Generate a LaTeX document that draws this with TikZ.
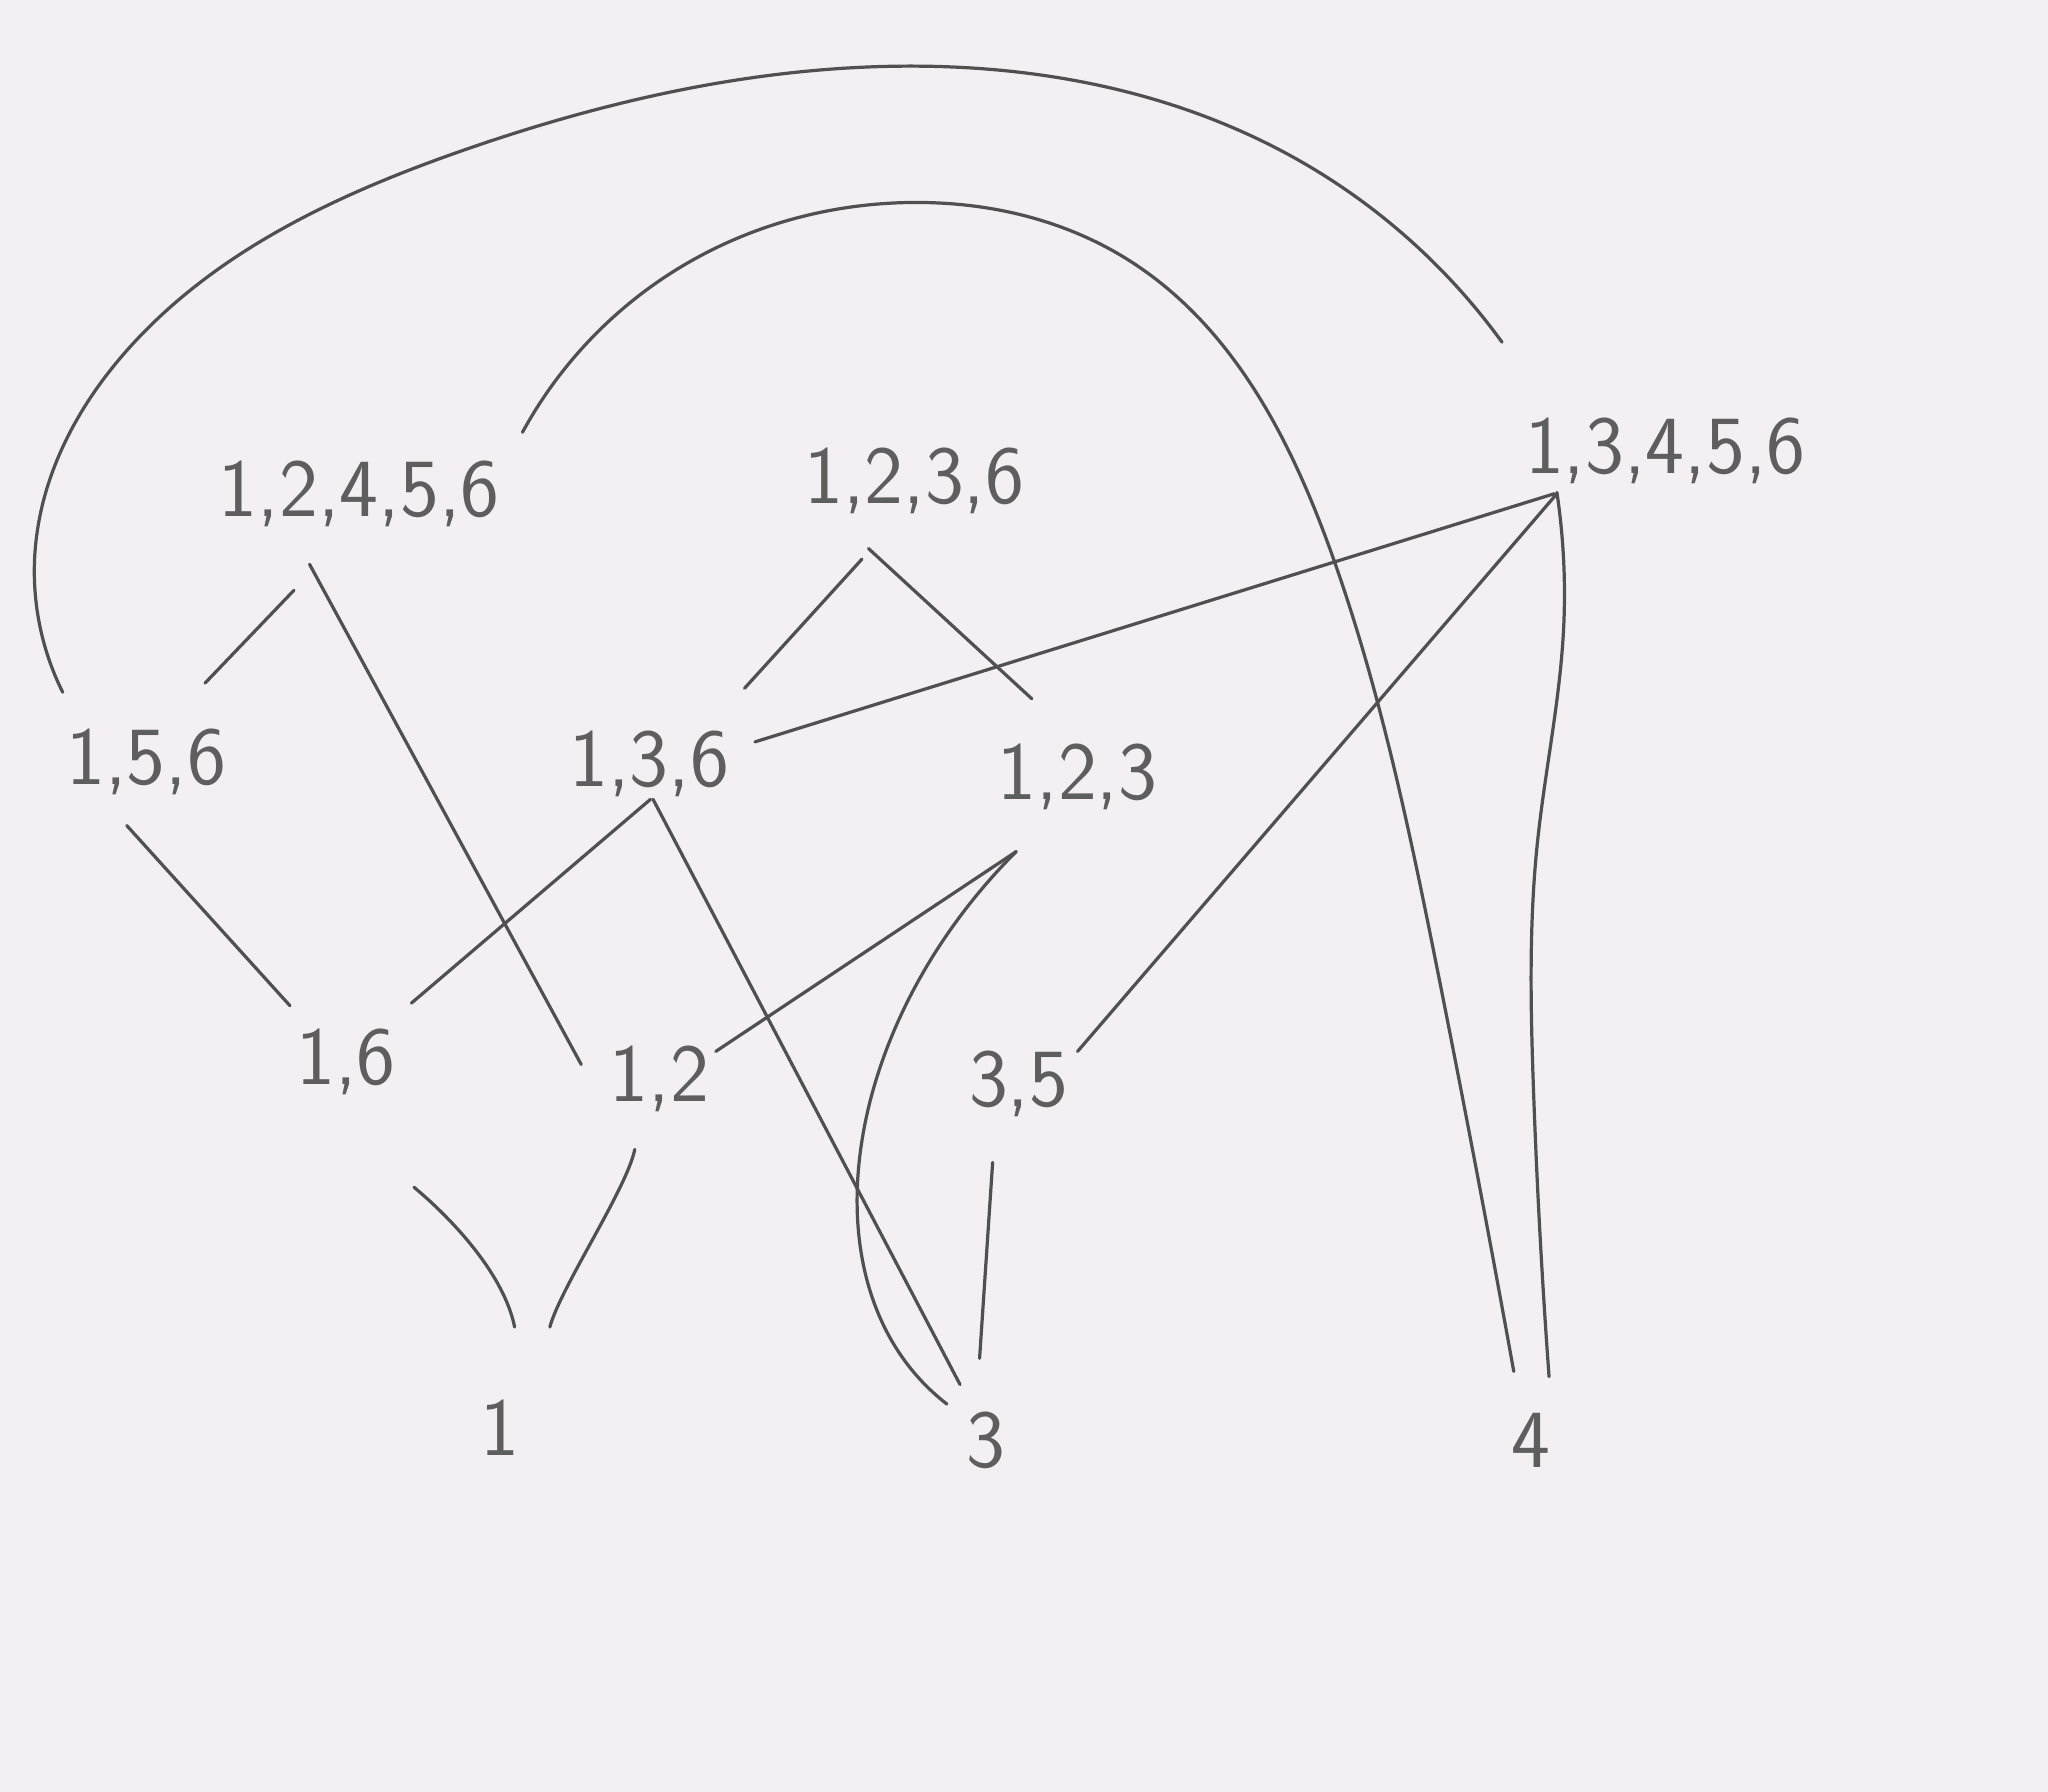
\documentclass[tikz,border=0pt]{standalone}
\usepackage{tikz}
\usetikzlibrary{hobby}
\definecolor{SketchPaper}{HTML}{F4EFF2}
\definecolor{SketchInk}{HTML}{505050}
\definecolor{SketchLead}{HTML}{5E5E5E}

\begin{document}
\begin{tikzpicture}[x=0.01cm, y=-0.01cm,
    subset/.style={text=SketchLead, font=\sffamily\fontsize{18}{20}\selectfont, inner sep=0pt},
    link/.style={draw=SketchInk, line width=0.7pt, line cap=round, line join=round}]

    % paper
    \useasboundingbox (0,0) rectangle (1568,1372);
    \fill[SketchPaper] (0,0) rectangle (1568,1372);

    % ========== Singletons ==========
    \node[subset] (n1) at (383,1093) {1};
    \node[subset] (n3) at (755,1103) {3};
    \node[subset] (n4) at (1172,1103) {4};

    % ========== Pairs ==========
    \node[subset] (n16) at (265,813) {1,6};
    \node[subset] (n12) at (505,826) {1,2};
    \node[subset] (n35) at (780,830) {3,5};

    % ========== Triples ==========
    \node[subset] (n156) at (112,583) {1,5,6};
    \node[subset] (n136) at (497,585) {1,3,6};
    \node[subset] (n123) at (825,595) {1,2,3};

    % ========== Top sets ==========
    \node[subset] (n12456) at (275,378) {1,2,4,5,6};
    \node[subset] (n1236) at (700,368) {1,2,3,6};
    \node[subset] (n13456) at (1275,345) {1,3,4,5,6};

    % from 1
    \draw[link] ([shift={(11,-77)}]n1.center) .. controls +(-8,-40) and +(30,25) .. ([shift={(52,96)}]n16.center);
    \draw[link] ([shift={(38,-77)}]n1.center) .. controls +(8,-30) and +(-6,30) .. ([shift={(-19,54)}]n12.center);

    % from 3
    \draw[link] ([shift={(-20,-43)}]n3.center) -- ([shift={(3,27)}]n136.center);
    \draw[link] ([shift={(-30,-28)}]n3.center) .. controls +(-110,-85) and +(-138,138) .. ([shift={(-47,57)}]n123.center);
    \draw[link] ([shift={(-5,-63)}]n3.center) -- ([shift={(-20,60)}]n35.center);

    % from 4
    \draw[link, use Hobby shortcut] ([shift={(14,-49)}]n4.center) .. (1174,832) .. (1177,646) .. (1197,484)
        .. ([shift={(-83,32)}]n13456.center);
    \draw[link, use Hobby shortcut] ([shift={(-13,-53)}]n4.center) .. (1100,740) .. (1021,428) .. (867,201)
        .. (700,155) .. (527,201) .. ([shift={(125,-47)}]n12456.center);

    % pairs upwards
    \draw[link] ([shift={(-43,-43)}]n16.center) -- ([shift={(-15,49)}]n156.center);
    \draw[link] ([shift={(50,-45)}]n16.center) -- ([shift={(1,27)}]n136.center);
    \draw[link] ([shift={(-60,-11)}]n12.center) -- ([shift={(-38,54)}]n12456.center);
    \draw[link] ([shift={(43,-21)}]n12.center) -- ([shift={(-47,57)}]n123.center);
    \draw[link] ([shift={(45,-25)}]n35.center) -- ([shift={(-83,33)}]n13456.center);

    % triples upwards
    \draw[link] ([shift={(45,-60)}]n156.center) -- ([shift={(-50,74)}]n12456.center);
    \draw[link] ([shift={(73,-58)}]n136.center) -- ([shift={(-40,60)}]n1236.center);
    \draw[link] ([shift={(-35,-60)}]n123.center) -- ([shift={(-35,52)}]n1236.center);
    \draw[link] ([shift={(81,-17)}]n136.center) -- ([shift={(-85,33)}]n13456.center);

    % long arc over the top
    \draw[link, use Hobby shortcut] ([shift={(-64,-53)}]n156.center) .. (27,420) .. (101,264) .. (352,116)
        .. (650,52) .. (984,117) .. ([shift={(-125,-83)}]n13456.center);

\end{tikzpicture}
\end{document}
